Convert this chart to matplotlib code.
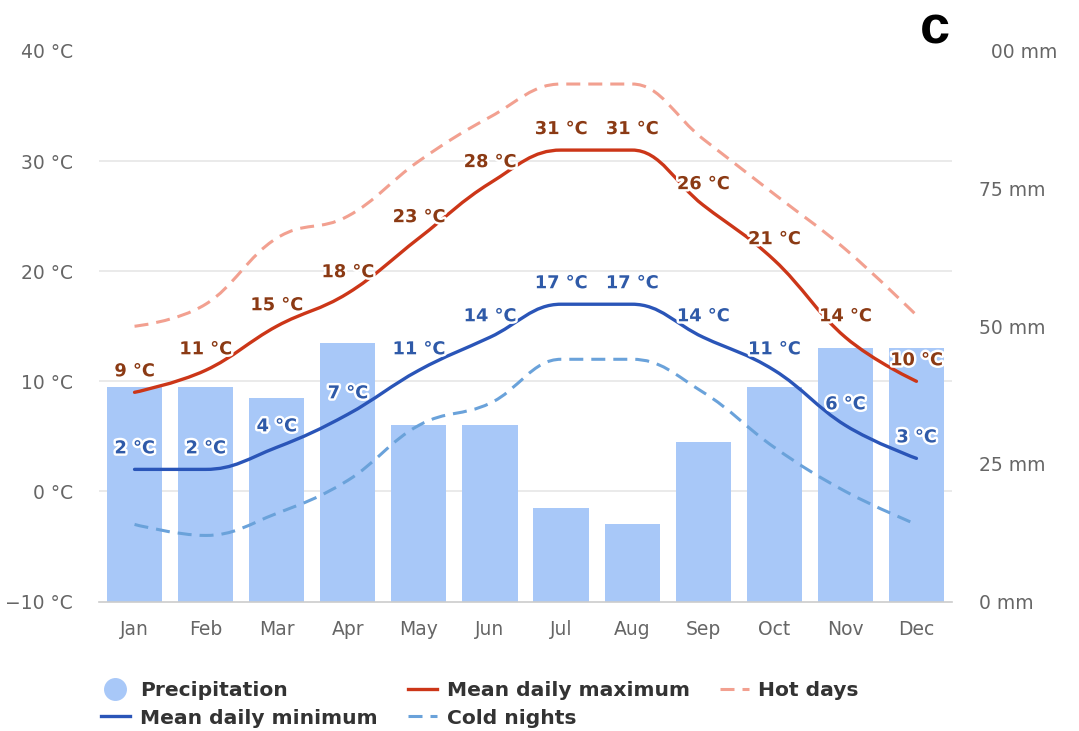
import numpy as np
import matplotlib
matplotlib.use("Agg")
import matplotlib.pyplot as plt
from matplotlib.path import Path
from matplotlib.patches import PathPatch, Rectangle
from matplotlib.lines import Line2D
import matplotlib.patheffects as pe

months = ["Jan", "Feb", "Mar", "Apr", "May", "Jun", "Jul", "Aug", "Sep", "Oct", "Nov", "Dec"]
precip_mm = [39, 39, 37, 47, 32, 32, 17, 14, 29, 39, 46, 46]
mean_max = [9, 11, 15, 18, 23, 28, 31, 31, 26, 21, 14, 10]
mean_min = [2, 2, 4, 7, 11, 14, 17, 17, 14, 11, 6, 3]
hot_days = [15, 17, 23, 25, 30, 34, 37, 37, 32, 27, 22, 16]
cold_nights = [-3, -4, -2, 1, 6, 8, 12, 12, 9, 4, 0, -3]
temp_ticks = [-10, 0, 10, 20, 30, 40]
precip_ticks = [0, 25, 50, 75, 100]

BAR = "#a8c8f8"
MAXC = "#cc3618"
MAXL = "#8b3a14"
MINC = "#2a55b8"
MINL = "#2f5aa8"
HOTC = "#f2a090"
COLDC = "#6aa2da"
TICKC = "#666666"


def highcharts_spline(xs, ys, smoothing=1.5):
    xs = list(map(float, xs)); ys = list(map(float, ys))
    n = len(xs)
    rc = [None] * n
    verts = [(xs[0], ys[0])]
    codes = [Path.MOVETO]
    for i in range(1, n):
        px, py = xs[i], ys[i]
        lx, ly = xs[i - 1], ys[i - 1]
        lcx, lcy = px, py
        if i < n - 1:
            nx, ny = xs[i + 1], ys[i + 1]
            d = smoothing + 1
            lcx = (smoothing * px + lx) / d
            lcy = (smoothing * py + ly) / d
            rcx = (smoothing * px + nx) / d
            rcy = (smoothing * py + ny) / d
            corr = 0.0
            if rcx != lcx:
                corr = (rcy - lcy) * (rcx - px) / (rcx - lcx) + py - rcy
            lcy += corr
            rcy += corr
            if lcy > ly and lcy > py:
                lcy = max(ly, py); rcy = 2 * py - lcy
            elif lcy < ly and lcy < py:
                lcy = min(ly, py); rcy = 2 * py - lcy
            if rcy > ny and rcy > py:
                rcy = max(ny, py); lcy = 2 * py - rcy
            elif rcy < ny and rcy < py:
                rcy = min(ny, py); lcy = 2 * py - rcy
            rc[i] = (rcx, rcy)
        c1 = rc[i - 1] if rc[i - 1] is not None else (lx, ly)
        verts += [c1, (lcx, lcy), (px, py)]
        codes += [Path.CURVE4] * 3
    return Path(verts, codes)


W, H = 1079, 731
fig = plt.figure(figsize=(W / 100, H / 100), dpi=100)
fig.patch.set_facecolor("white")

left, right, top, bottom = 99, 952, 51, 601.5
rect = [left / W, 1 - bottom / H, (right - left) / W, (bottom - top) / H]
ax2 = fig.add_axes(rect, zorder=1)
ax = fig.add_axes(rect, zorder=2, sharex=ax2)
ax.patch.set_visible(False)

x = np.arange(len(months))

# precipitation bars on the mm axis
ax2.bar(x, precip_mm, width=0.775, color=BAR, zorder=3)
ax2.set_ylim(0, 100)
ax2.set_xlim(-0.5, len(months) - 0.5)
ax2.yaxis.tick_right()
ax2.set_yticks(precip_ticks)
ax2.set_yticklabels([f"{v} mm" for v in precip_ticks])
ax2.set_yticks(np.linspace(0, 100, 6), minor=True)
ax2.grid(True, which="minor", axis="y", color="#e6e6e6", linewidth=1.2, zorder=0)
ax2.set_axisbelow(True)
ax2.tick_params(axis="y", which="both", length=0, pad=19.4, labelsize=13.5, labelcolor=TICKC)
for lbl in ax2.get_yticklabels():
    lbl.set_horizontalalignment("left")
for s in ["left", "right", "top"]:
    ax2.spines[s].set_visible(False)
ax2.spines["bottom"].set_color("#cccccc")
ax2.spines["bottom"].set_linewidth(1.2)
ax2.spines["bottom"].set_zorder(4)
ax2.set_xticks(x)
ax2.set_xticklabels(months)
ax2.tick_params(axis="x", length=0, pad=13.6, labelsize=13.5, labelcolor=TICKC)

# temperature axis
ax.set_ylim(-10, 40)
ax.set_yticks(temp_ticks)
ax.set_yticklabels([f"{v} °C".replace("-", "\u2212") for v in temp_ticks])
ax.tick_params(axis="y", length=0, pad=18.7, labelsize=13.5, labelcolor=TICKC)
ax.tick_params(axis="x", bottom=False, labelbottom=False)
for s in ax.spines.values():
    s.set_visible(False)

lw = 2.4
dash = (0, (14 * 0.72 / 2.2, 8 * 0.72 / 2.2))

def draw(series, color, ls):
    p = highcharts_spline(x, series)
    patch = PathPatch(p, facecolor="none", edgecolor=color, linewidth=lw if ls == "-" else 2.2,
                      linestyle=ls, capstyle="round" if ls == "-" else "butt", joinstyle="round", zorder=3)
    ax.add_patch(patch)

draw(hot_days, HOTC, dash)
draw(cold_nights, COLDC, dash)
draw(mean_max, MAXC, "-")
draw(mean_min, MINC, "-")

halo = [pe.withStroke(linewidth=3.5, foreground="white")]
for xi, v in zip(x, mean_max):
    ax.annotate(f"{v} °C", (xi, v), xytext=(0, 21), textcoords="offset pixels",
                ha="center", va="center", fontsize=12.8, fontweight="bold", color=MAXL,
                path_effects=halo, zorder=6)
for xi, v in zip(x, mean_min):
    ax.annotate(f"{v} °C", (xi, v), xytext=(0, 21), textcoords="offset pixels",
                ha="center", va="center", fontsize=12.8, fontweight="bold", color=MINL,
                path_effects=halo, zorder=6)

# legend
h_pre = Line2D([], [], marker="o", linestyle="none", markersize=15.5, color=BAR)
h_max = Line2D([], [], color=MAXC, linewidth=lw)
h_min = Line2D([], [], color=MINC, linewidth=lw)
h_hot = Line2D([], [], color=HOTC, linewidth=2.2, linestyle=dash)
h_cold = Line2D([], [], color=COLDC, linewidth=2.2, linestyle=dash)
handles = [h_pre, h_min, h_max, h_cold, h_hot]
labels = ["Precipitation", "Mean daily minimum", "Mean daily maximum", "Cold nights", "Hot days"]
fig.legend(handles, labels, ncol=3, loc="upper left", bbox_to_anchor=(101 / W, 1 - 681 / H),
           frameon=False, prop={"size": 14.6, "weight": "bold"}, labelcolor="#333333",
           handlelength=1.43, handletextpad=0.49, columnspacing=1.48, labelspacing=0.42,
           borderpad=0, borderaxespad=0)

# panel label with white backing
fig.patches.append(Rectangle((888 / W, 1 - 62 / H), (989.5 - 888) / W, 62 / H,
                             transform=fig.transFigure, facecolor="white", edgecolor="none", zorder=10))
fig.text(920 / W, 1 - 43 / H, "c", fontsize=39, fontweight="bold", family="Liberation Sans",
         color="black", ha="left", va="baseline", zorder=11)

fig.savefig("out.png", dpi=100)
